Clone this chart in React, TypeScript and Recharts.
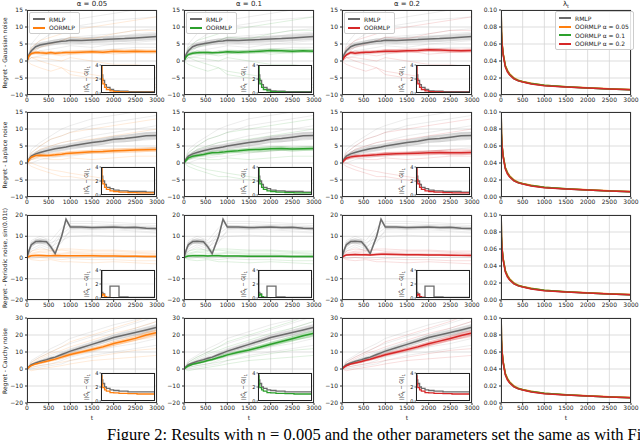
import React from 'react'
import { ComposedChart, LineChart, Line, Area, XAxis, YAxis, CartesianGrid } from 'recharts'

// time grid for the mean curves, coarser grid for single runs, inset grid, lambda grid
const T = [0, 50, 100, 200, 300, 450, 550, 650, 800, 900, 1000, 1250, 1500, 1750, 2000, 2250, 2500, 2750, 3000]
const RT = [0, 100, 300, 550, 800, 1000, 1500, 2000, 2500, 3000]
const IT = [0, 50, 100, 200, 300, 500, 700, 1000, 1500, 2000, 2500, 3000]
const LT = [0, 10, 25, 50, 100, 150, 200, 300, 400, 500, 700, 1000, 1500, 2000, 2500, 3000]

const X_TICKS = [0, 500, 1000, 1500, 2000, 2500, 3000]
const TICKS_GL = [-10, -5, 0, 5, 10, 15]
const TICKS_P = [-20, -10, 0, 10, 20]
const TICKS_C = [-20, -10, 0, 10, 20, 30]
const TICKS_L = [0, 0.02, 0.04, 0.06, 0.08, 0.1]
const INSET_TICKS = [0, 2, 4]

const ALPHAS = ['0.05', '0.1', '0.2']
const OOR_COLORS = ['#ff7f0e', '#2ca02c', '#d62728']
const RMLP_COLOR = '#6b6b6b'

// Gaussian noise
const GAUSS_RMLP = [0, 2.0, 3.0, 4.2, 4.7, 5.1, 5.3, 5.5, 5.8, 5.9, 6.1, 6.0, 6.2, 6.3, 6.5, 6.6, 6.8, 7.0, 7.2]
const GAUSS_OOR_005 = [0, 1.6, 2.2, 2.5, 2.4, 2.3, 2.5, 2.3, 2.4, 2.5, 2.5, 2.6, 2.7, 2.6, 2.9, 2.8, 2.9, 2.8, 2.8]
const GAUSS_OOR_01 = [0, 1.3, 1.9, 2.3, 2.4, 2.5, 2.5, 2.4, 2.5, 2.6, 2.7, 2.6, 2.7, 2.9, 3.1, 3.0, 2.9, 3.0, 2.9]
const GAUSS_OOR_02 = [0, 1.1, 1.8, 2.5, 2.3, 2.5, 2.6, 2.6, 2.7, 2.8, 2.9, 2.9, 3.0, 3.1, 3.3, 3.2, 3.1, 3.0, 3.1]
const GAUSS_RMLP_SD = [0, 0.5, 0.7, 0.8, 0.8, 0.8, 0.8, 0.8, 0.8, 0.9, 0.9, 0.9, 0.9, 0.9, 1.0, 1.0, 1.0, 1.0, 1.0]
const GAUSS_OOR_SD = [0, 0.4, 0.5, 0.5, 0.5, 0.5, 0.5, 0.5, 0.5, 0.5, 0.6, 0.6, 0.6, 0.6, 0.6, 0.6, 0.6, 0.6, 0.6]
const GAUSS_RMLP_RUNS = [
  [0, 4, 6, 8, 9, 10, 11, 12, 12.5, 13],
  [0, 3, 5, 5.5, 6, 7, 7.5, 8, 9, 9.5],
  [0, 2, 3, 3.5, 4, 4.5, 4, 5, 5.5, 6],
  [0, 1, 1.5, 2, 3, 2.5, 3, 3.5, 4, 4],
  [0, 5, 8, 10, 11, 12, 13, 14, 15, 15],
  [0, 2, 4, 6, 6.5, 6, 7, 7, 8, 8.5],
]
const GAUSS_OOR_RUNS = [
  [0, 3, 4, 5, 6, 7, 6.5, 8, 9, 9],
  [0, 1, 0, -1, -2, -3, -4, -5, -6, -7],
  [0, 2, 3, 2, 1.5, 2, 3, 2, 2.5, 3],
  [0, -1, -2, -3, -2, -4, -5, -6, -5, -8],
  [0, 4, 6, 7, 8, 9, 10, 11, 12, 13],
  [0, 1, 1, 0.5, 0, 1, 0, -1, -1, -2],
]
const GAUSS_INSET_RMLP = [4.0, 2.6, 1.8, 1.2, 0.8, 0.5, 0.3, 0.25, 0.2, 0.2, 0.2, 0.2]
const GAUSS_INSET_OOR = [4.0, 2.0, 1.3, 0.8, 0.5, 0.3, 0.2, 0.15, 0.1, 0.1, 0.1, 0.1]

// Laplace noise
const LAP_RMLP = [0, 1.2, 2.0, 2.7, 3.1, 3.6, 3.9, 4.2, 4.5, 4.7, 5.0, 5.5, 6.0, 6.4, 7.0, 7.2, 7.6, 8.0, 8.1]
const LAP_OOR_005 = [0, 1.0, 1.7, 2.2, 2.3, 2.2, 2.3, 2.4, 2.6, 2.8, 2.9, 3.1, 3.3, 3.4, 3.6, 3.7, 3.8, 3.9, 4.0]
const LAP_OOR_01 = [0, 0.8, 1.5, 2.0, 2.2, 2.5, 2.8, 3.0, 3.1, 3.2, 3.4, 3.6, 3.9, 4.0, 4.2, 4.3, 4.1, 4.2, 4.3]
const LAP_OOR_02 = [0, 0.8, 1.4, 1.8, 2.0, 2.1, 2.2, 2.3, 2.4, 2.5, 2.6, 2.7, 2.8, 2.9, 3.0, 3.1, 3.0, 3.0, 3.1]
const LAP_RMLP_SD = [0, 0.5, 0.6, 0.7, 0.8, 0.8, 0.8, 0.9, 0.9, 0.9, 0.9, 1.0, 1.0, 1.0, 1.0, 1.1, 1.1, 1.1, 1.1]
const LAP_OOR_SD = [0, 0.4, 0.5, 0.5, 0.5, 0.5, 0.5, 0.6, 0.6, 0.6, 0.6, 0.6, 0.6, 0.7, 0.7, 0.7, 0.7, 0.7, 0.7]
const LAP_RMLP_RUNS = [
  [0, 3, 5, 7, 8, 9, 11, 12, 13, 14],
  [0, 1, 2, 3, 3.5, 4, 5, 6, 6.5, 7],
  [0, 2, 4, 5, 6, 6.5, 8, 9, 10, 11],
  [0, 0, 1, 1.5, 2, 2, 3, 3.5, 4, 4.5],
  [0, 4, 6, 8, 10, 11, 13, 14, 15, 15],
  [0, 1.5, 3, 4, 4.5, 5, 6, 7.5, 8.5, 9],
]
const LAP_OOR_RUNS = [
  [0, 2, 4, 5, 6, 6.5, 7, 8, 9, 10],
  [0, 0, -1, -2, -2.5, -3, -4, -5, -5.5, -6],
  [0, 1, 2, 2, 2.5, 3, 3, 3.5, 4, 4],
  [0, -1, -2, -3, -4, -4, -5, -6, -7, -8],
  [0, 3, 5, 7, 8, 9, 10, 11, 12, 13],
  [0, 1, 1.5, 1, 1, 1.5, 1, 1.5, 2, 2],
]
const LAP_INSET_RMLP = [4.0, 2.7, 2.0, 1.5, 1.1, 0.9, 0.7, 0.6, 0.5, 0.5, 0.4, 0.4]
const LAP_INSET_OOR = [4.0, 2.2, 1.6, 1.1, 0.8, 0.6, 0.5, 0.4, 0.35, 0.3, 0.3, 0.3]

// Periodic noise
const PER_RMLP = [0, 3.5, 6.0, 7.5, 7.6, 7.4, 5.0, 1.8, 10.0, 18.0, 14.3, 14.3, 14.1, 14.2, 14.4, 14.1, 14.2, 13.8, 13.6]
const PER_OOR_005 = [0, 0.5, 0.8, 0.9, 0.9, 0.8, 0.8, 0.9, 0.8, 0.8, 0.8, 0.8, 0.8, 0.7, 0.7, 0.6, 0.6, 0.5, 0.5]
const PER_OOR_01 = [0, 0.4, 0.7, 0.8, 0.8, 0.8, 0.7, 0.8, 0.8, 0.7, 0.7, 0.7, 0.6, 0.6, 0.6, 0.6, 0.5, 0.5, 0.5]
const PER_OOR_02 = [0, 0.8, 1.2, 1.3, 1.4, 1.3, 1.3, 1.2, 1.4, 1.5, 1.5, 1.4, 1.3, 1.3, 1.2, 1.2, 1.1, 1.0, 1.0]
const PER_RMLP_SD = [0, 1.0, 1.2, 1.2, 1.2, 1.2, 1.2, 1.2, 1.2, 1.2, 1.0, 0.9, 0.9, 0.9, 0.9, 0.9, 0.9, 0.9, 0.9]
const PER_OOR_SD = [0, 0.4, 0.5, 0.5, 0.5, 0.5, 0.5, 0.5, 0.5, 0.5, 0.5, 0.5, 0.5, 0.5, 0.5, 0.5, 0.5, 0.5, 0.5]
const PER_RMLP_RUNS = [
  [0, 5, 8, 6, 12, 16, 16, 15.5, 15.5, 15],
  [0, 7, 9, 7, 9, 12, 12, 12, 12, 11.5],
  [0, 4, 6, 4, 11, 14, 13.5, 14, 13.5, 13],
  [0, 6, 7, 5, 8, 10, 10.5, 10, 10, 10],
  [0, 8, 10, 8, 14, 17, 17, 16.5, 16, 16],
  [0, 3, 5, 3, 7, 13, 13, 13, 12.5, 12],
]
const PER_OOR_RUNS = [
  [0, 2, 3, 3, 3.5, 3, 3, 3, 2.5, 2],
  [0, -1, -1.5, -1, -2, -2, -2.5, -2, -2.5, -3],
  [0, 1, 1.5, 1, 1.5, 2, 1.5, 1.5, 1, 1],
  [0, 3, 4, 3.5, 4, 4, 3.5, 3.5, 3, 3],
  [0, -0.5, 0, -0.5, -1, -0.5, -1, -1, -1.5, -1.5],
  [0, 1.5, 2.5, 2, 2, 2.5, 2, 2, 2, 1.5],
]
const PER_INSET_RMLP = [4.0, 0.8, 0.6, 0.2, 0.1, 1.7, 1.7, 0.15, 0.1, 0.1, 0.1, 0.1]
const PER_INSET_OOR = [0.6, 0.3, 0.5, 0.2, 0.1, 0.05, 0.05, 0.05, 0.05, 0.05, 0.05, 0.05]

// Cauchy noise
const CAU_RMLP = [0, 1.5, 2.5, 3.5, 4.5, 5.5, 6.3, 7.0, 8.5, 9.5, 10.5, 12.5, 14.5, 16.5, 18.5, 20.0, 21.5, 23.0, 24.5]
const CAU_OOR_005 = [0, 1.2, 2.0, 3.0, 3.6, 4.5, 5.2, 5.8, 7.0, 7.8, 8.5, 10.0, 11.5, 13.0, 15.0, 16.5, 18.0, 20.0, 21.5]
const CAU_OOR_01 = [0, 1.0, 1.8, 2.8, 3.4, 4.3, 5.0, 5.6, 6.8, 7.5, 8.3, 9.8, 11.2, 12.8, 14.6, 16.2, 17.8, 19.5, 21.0]
const CAU_OOR_02 = [0, 1.1, 1.9, 2.9, 3.5, 4.4, 5.1, 5.7, 6.9, 7.6, 8.4, 9.9, 11.4, 13.0, 14.8, 16.4, 18.0, 19.7, 21.2]
const CAU_RMLP_SD = [0, 0.5, 0.6, 0.7, 0.8, 0.9, 1.0, 1.0, 1.1, 1.1, 1.2, 1.3, 1.4, 1.5, 1.6, 1.7, 1.8, 1.9, 2.0]
const CAU_OOR_SD = [0, 0.4, 0.5, 0.6, 0.7, 0.8, 0.8, 0.9, 0.9, 1.0, 1.0, 1.1, 1.2, 1.3, 1.4, 1.5, 1.6, 1.7, 1.8]
const CAU_RMLP_RUNS = [
  [0, 4, 7, 10, 13, 15, 19, 23, 27, 31],
  [0, 2, 4, 6, 8, 10, 13, 17, 20, 24],
  [0, 1, 2, 3, 5, 7, 10, 13, 15, 18],
  [0, 3, 5, 8, 10, 12, 16, 20, 24, 28],
  [0, 0, 1, 2, 3, 5, 8, 10, 12, 14],
  [0, 5, 8, 12, 15, 18, 22, 26, 29, 32],
]
const CAU_OOR_RUNS = [
  [0, 3, 6, 9, 11, 13, 17, 21, 24, 28],
  [0, 1, 2, 3, 4, 5, 7, 9, 11, 12],
  [0, 2, 4, 6, 8, 9, 12, 15, 18, 21],
  [0, -1, 0, 1, 2, 3, 5, 6, 7, 8],
  [0, 4, 7, 10, 13, 16, 20, 24, 28, 33],
  [0, 2, 3, 5, 6, 8, 11, 14, 17, 19],
]
const CAU_INSET_RMLP = [4.0, 3.0, 2.5, 2.0, 1.8, 1.6, 1.5, 1.4, 1.3, 1.3, 1.3, 1.3]
const CAU_INSET_OOR = [3.6, 2.4, 1.9, 1.6, 1.4, 1.2, 1.15, 1.1, 1.05, 1.0, 1.0, 1.0]

// lambda_t
const LAMBDA_RMLP = [0.12, 0.075, 0.06, 0.048, 0.034, 0.028, 0.024, 0.019, 0.0168, 0.0155, 0.0132, 0.0112, 0.0094, 0.0082, 0.0071, 0.0062]
const LAMBDA_005 = [0.12, 0.076, 0.061, 0.049, 0.035, 0.029, 0.025, 0.02, 0.0175, 0.016, 0.0137, 0.0116, 0.0098, 0.0085, 0.0074, 0.0065]
const LAMBDA_01 = [0.12, 0.075, 0.06, 0.048, 0.034, 0.028, 0.024, 0.0195, 0.017, 0.0157, 0.0134, 0.0114, 0.0096, 0.0083, 0.0072, 0.0063]
const LAMBDA_02 = [0.12, 0.074, 0.059, 0.047, 0.033, 0.027, 0.0235, 0.019, 0.0166, 0.0153, 0.013, 0.011, 0.0093, 0.0081, 0.007, 0.0061]

const ROW_LABELS = ['Regret - Gaussian noise', 'Regret - Laplace noise', 'Regret - Periodic noise, sin(0.01t)', 'Regret - Cauchy noise']

const ROWS = [
  { rmlp: GAUSS_RMLP, rmlpSd: GAUSS_RMLP_SD, oor: [GAUSS_OOR_005, GAUSS_OOR_01, GAUSS_OOR_02], oorSd: GAUSS_OOR_SD, rmlpRuns: GAUSS_RMLP_RUNS, oorRuns: GAUSS_OOR_RUNS, insetRmlp: GAUSS_INSET_RMLP, insetOor: GAUSS_INSET_OOR, domain: [-10, 15], ticks: TICKS_GL },
  { rmlp: LAP_RMLP, rmlpSd: LAP_RMLP_SD, oor: [LAP_OOR_005, LAP_OOR_01, LAP_OOR_02], oorSd: LAP_OOR_SD, rmlpRuns: LAP_RMLP_RUNS, oorRuns: LAP_OOR_RUNS, insetRmlp: LAP_INSET_RMLP, insetOor: LAP_INSET_OOR, domain: [-10, 15], ticks: TICKS_GL },
  { rmlp: PER_RMLP, rmlpSd: PER_RMLP_SD, oor: [PER_OOR_005, PER_OOR_01, PER_OOR_02], oorSd: PER_OOR_SD, rmlpRuns: PER_RMLP_RUNS, oorRuns: PER_OOR_RUNS, insetRmlp: PER_INSET_RMLP, insetOor: PER_INSET_OOR, domain: [-20, 20], ticks: TICKS_P },
  { rmlp: CAU_RMLP, rmlpSd: CAU_RMLP_SD, oor: [CAU_OOR_005, CAU_OOR_01, CAU_OOR_02], oorSd: CAU_OOR_SD, rmlpRuns: CAU_RMLP_RUNS, oorRuns: CAU_OOR_RUNS, insetRmlp: CAU_INSET_RMLP, insetOor: CAU_INSET_OOR, domain: [-20, 30], ticks: TICKS_C },
]

// layout
const COL_LEFT = [27, 184, 342, 501]
const ROW_TOP = [10, 112, 215, 318]
const PW = 130
const PH = 85
const YW = 26
const MT = 4
const MR = 10
const XH = 14
const FONT = "'DejaVu Sans', sans-serif"
const tick = { fontSize: 6, fill: '#222', fontFamily: FONT }

const fmt = (v: number) => (v < 0 ? `\u2212${-v}` : `${v}`)

type Row = (typeof ROWS)[number]

const buildTable = (row: Row, a: number) =>
  T.map((t, i) => {
    const om = row.oor[a][i]
    const d: any = {
      t,
      rm: row.rmlp[i],
      rb: [row.rmlp[i] - row.rmlpSd[i], row.rmlp[i] + row.rmlpSd[i]],
      om,
      ob: [om - row.oorSd[i], om + row.oorSd[i]],
    }
    const k = RT.indexOf(t)
    if (k >= 0) {
      row.rmlpRuns.forEach((run, j) => (d['r' + j] = run[k]))
      row.oorRuns.forEach((run, j) => (d['o' + j] = run[k]))
    }
    return d
  })

const lambdaTable = LT.map((t, i) => ({ t, g: LAMBDA_RMLP[i], a: LAMBDA_005[i], b: LAMBDA_01[i], c: LAMBDA_02[i] }))

const Frame = () => (
  <div
    style={{
      position: 'absolute', left: YW, top: MT, width: PW, height: PH,
      border: '1px solid #333', boxSizing: 'border-box', pointerEvents: 'none',
    }}
  />
)

const LegendBox = ({ left, top, items }: { left: number; top: number; items: { label: string; color: string }[] }) => (
  <div
    style={{
      position: 'absolute', left, top, padding: '2px 4px 1px 3px', background: 'rgba(255,255,255,0.85)',
      border: '1px solid #ccc', borderRadius: 2, fontFamily: FONT, fontSize: 6, color: '#222',
    }}
  >
    {items.map((it) => (
      <div key={it.label} style={{ display: 'flex', alignItems: 'center', height: 8.5 }}>
        <div style={{ width: 12, height: 1.6, background: it.color, marginRight: 4 }} />
        <span style={{ whiteSpace: 'nowrap' }}>{it.label}</span>
      </div>
    ))}
  </div>
)

const Inset = ({ r, c }: { r: number; c: number }) => {
  const row = ROWS[r]
  const il = COL_LEFT[c] + 74
  const itop = ROW_TOP[r] + 55
  const iw = 54
  const ih = 28
  const iyw = 10
  const im = 4
  const data = IT.map((t, i) => ({ t, g: row.insetRmlp[i], o: row.insetOor[i] }))
  return (
    <>
      <div style={{ position: 'absolute', left: il, top: itop, width: iw, height: ih, background: '#fff' }} />
      <div style={{ position: 'absolute', left: il - iyw, top: itop - im }}>
        <LineChart width={iyw + iw + 1} height={ih + 2 * im} data={data} margin={{ top: im, right: 1, bottom: im, left: 0 }}>
          <CartesianGrid stroke="#e2e2e2" strokeWidth={0.6} />
          <XAxis type="number" dataKey="t" domain={[0, 3000]} ticks={X_TICKS} hide />
          <YAxis
            type="number" domain={[0, 4]} ticks={INSET_TICKS} allowDataOverflow width={iyw} interval={0}
            tick={{ fontSize: 5, fill: '#222', fontFamily: FONT }} tickSize={1.5} tickMargin={1} axisLine={false}
          />
          <Line type="stepAfter" dataKey="g" stroke={RMLP_COLOR} strokeWidth={1.3} dot={false} isAnimationActive={false} />
          <Line type="stepAfter" dataKey="o" stroke={OOR_COLORS[c]} strokeWidth={1.3} dot={false} isAnimationActive={false} />
        </LineChart>
      </div>
      <div style={{ position: 'absolute', left: il, top: itop, width: iw, height: ih, border: '1px solid #222', boxSizing: 'border-box' }} />
      <div
        style={{
          position: 'absolute', left: il - 14, top: itop + ih / 2, transform: 'translate(-50%, -50%) rotate(-90deg)',
          fontFamily: FONT, fontSize: 5, color: '#222', whiteSpace: 'nowrap',
        }}
      >
        ||Ĝ<sub style={{ fontSize: 4 }}>t</sub> − G||<sub style={{ fontSize: 4 }}>1</sub>
      </div>
    </>
  )
}

const RegretPanel = ({ r, c }: { r: number; c: number }) => {
  const row = ROWS[r]
  const color = OOR_COLORS[c]
  const data = buildTable(row, c)
  return (
    <div style={{ position: 'absolute', left: COL_LEFT[c] - YW, top: ROW_TOP[r] - MT }}>
      <ComposedChart width={YW + PW + MR} height={MT + PH + XH} data={data} margin={{ top: MT, right: MR, bottom: 0, left: 0 }}>
        <CartesianGrid stroke="#d4d4d4" strokeWidth={0.8} />
        <XAxis
          type="number" dataKey="t" domain={[0, 3000]} ticks={X_TICKS} allowDataOverflow interval={0} height={XH}
          tick={tick} tickSize={2} tickMargin={1} axisLine={false} tickLine={{ stroke: '#333' }}
        />
        <YAxis
          type="number" domain={row.domain} ticks={row.ticks} allowDataOverflow interval={0} width={YW}
          tick={tick} tickFormatter={fmt} tickSize={2} tickMargin={2} axisLine={false} tickLine={{ stroke: '#333' }}
        />
        {row.rmlpRuns.map((_, j) => (
          <Line key={'r' + j} dataKey={'r' + j} stroke="#9a9a9a" strokeOpacity={0.3} strokeWidth={0.6} dot={false} connectNulls isAnimationActive={false} />
        ))}
        {row.oorRuns.map((_, j) => (
          <Line key={'o' + j} dataKey={'o' + j} stroke={color} strokeOpacity={0.25} strokeWidth={0.6} dot={false} connectNulls isAnimationActive={false} />
        ))}
        <Area dataKey="rb" stroke="none" fill="#9a9a9a" fillOpacity={0.35} isAnimationActive={false} />
        <Area dataKey="ob" stroke="none" fill={color} fillOpacity={0.3} isAnimationActive={false} />
        <Line dataKey="rm" stroke={RMLP_COLOR} strokeWidth={1.5} dot={false} isAnimationActive={false} />
        <Line dataKey="om" stroke={color} strokeWidth={1.5} dot={false} isAnimationActive={false} />
      </ComposedChart>
      <Frame />
    </div>
  )
}

const LambdaPanel = ({ r }: { r: number }) => (
  <div style={{ position: 'absolute', left: COL_LEFT[3] - YW, top: ROW_TOP[r] - MT }}>
    <ComposedChart width={YW + PW + MR} height={MT + PH + XH} data={lambdaTable} margin={{ top: MT, right: MR, bottom: 0, left: 0 }}>
      <CartesianGrid stroke="#d4d4d4" strokeWidth={0.8} />
      <XAxis
        type="number" dataKey="t" domain={[0, 3000]} ticks={X_TICKS} allowDataOverflow interval={0} height={XH}
        tick={tick} tickSize={2} tickMargin={1} axisLine={false} tickLine={{ stroke: '#333' }}
      />
      <YAxis
        type="number" domain={[0, 0.1]} ticks={TICKS_L} allowDataOverflow interval={0} width={YW}
        tick={tick} tickFormatter={(v: number) => v.toFixed(2)} tickSize={2} tickMargin={2} axisLine={false} tickLine={{ stroke: '#333' }}
      />
      <Line dataKey="g" stroke={RMLP_COLOR} strokeWidth={1.5} dot={false} isAnimationActive={false} />
      <Line dataKey="a" stroke={OOR_COLORS[0]} strokeWidth={1.5} dot={false} isAnimationActive={false} />
      <Line dataKey="b" stroke={OOR_COLORS[1]} strokeWidth={1.5} dot={false} isAnimationActive={false} />
      <Line dataKey="c" stroke={OOR_COLORS[2]} strokeWidth={1.5} dot={false} isAnimationActive={false} />
    </ComposedChart>
    <Frame />
  </div>
)

export default function App() {
  return (
    <div style={{ position: 'absolute', left: 0, top: 0, width: 640, height: 440, overflow: 'hidden', background: '#fff', fontFamily: FONT }}>
      {ROWS.map((_, r) => (
        <React.Fragment key={r}>
          {ALPHAS.map((_, c) => (
            <React.Fragment key={c}>
              <RegretPanel r={r} c={c} />
              <Inset r={r} c={c} />
            </React.Fragment>
          ))}
          <LambdaPanel r={r} />
          <div
            style={{
              position: 'absolute', left: 4, top: ROW_TOP[r] + PH / 2, transform: 'translate(-50%, -50%) rotate(-90deg)',
              fontSize: 6, color: '#222', whiteSpace: 'nowrap',
            }}
          >
            {ROW_LABELS[r]}
          </div>
        </React.Fragment>
      ))}

      {ALPHAS.map((a, c) => (
        <div key={a} style={{ position: 'absolute', left: COL_LEFT[c] + PW / 2, top: 0, transform: 'translateX(-50%)', fontSize: 7, color: '#222', whiteSpace: 'nowrap' }}>
          α = {a}
        </div>
      ))}
      <div style={{ position: 'absolute', left: COL_LEFT[3] + PW / 2, top: 0, transform: 'translateX(-50%)', fontSize: 7, color: '#222' }}>
        λ<sub style={{ fontSize: 5 }}>t</sub>
      </div>

      {ALPHAS.map((a, c) => (
        <LegendBox key={a} left={COL_LEFT[c] + 2} top={ROW_TOP[0] + 2} items={[{ label: 'RMLP', color: RMLP_COLOR }, { label: 'OORMLP', color: OOR_COLORS[c] }]} />
      ))}
      <LegendBox
        left={555}
        top={ROW_TOP[0] + 1}
        items={[
          { label: 'RMLP', color: RMLP_COLOR },
          ...ALPHAS.map((a, c) => ({ label: `OORMLP α = ${a}`, color: OOR_COLORS[c] })),
        ]}
      />

      {COL_LEFT.map((l, c) => (
        <div key={c} style={{ position: 'absolute', left: l + PW / 2, top: 414, transform: 'translateX(-50%)', fontSize: 6, color: '#222' }}>
          t
        </div>
      ))}

      <div style={{ position: 'absolute', left: 107, top: 425, fontFamily: "'Liberation Serif', serif", fontSize: 16.5, color: '#000', whiteSpace: 'nowrap' }}>
        Figure 2: Results with η = 0.005 and the other parameters set the same as with Figure 1.
      </div>
    </div>
  )
}
